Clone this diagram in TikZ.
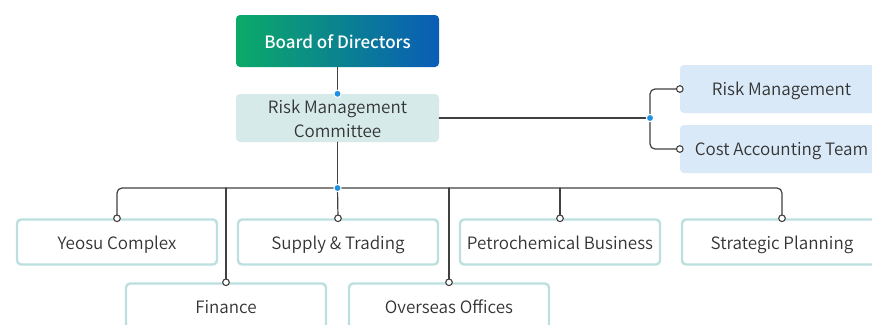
\documentclass[tikz,border=0pt]{standalone}
\usepackage{fontspec}
\setmainfont{Noto Sans CJK KR DemiLight}[BoldFont={Noto Sans CJK KR Medium}]
\usepackage{tikz}
\definecolor{linegray}{HTML}{404040}
\definecolor{txtgray}{HTML}{333333}
\definecolor{dotblue}{HTML}{1E8FE1}
\definecolor{bodgreen}{HTML}{0BAA68}
\definecolor{bodblue}{HTML}{0A5DB6}
\definecolor{cmtfill}{HTML}{D6EAEA}
\definecolor{sidefill}{HTML}{D9E9F7}
\definecolor{unitline}{HTML}{BCDFDF}
\tikzset{
  every picture/.style={line join=round, line cap=round},
  box/.style={rounded corners=4pt, minimum width=203pt, minimum height=48pt,
    inner sep=0pt, align=center, text=txtgray, font=\fontsize{17}{24}\selectfont,
    text height=13pt, text depth=0pt},
  topbox/.style={box, minimum height=52pt, left color=bodgreen, right color=bodblue,
    text=white, font=\fontsize{17}{24}\selectfont\bfseries, text height=14pt},
  cmtbox/.style={box, fill=cmtfill, text height=38pt, text depth=0pt},
  sidebox/.style={box, fill=sidefill},
  unitbox/.style={box, draw=unitline, line width=2.4pt, fill=white,
    minimum width=200pt, minimum height=45pt, text height=14pt},
  conn/.style={draw=linegray, line width=1.2pt},
  hub/.style={fill=dotblue, draw=white, line width=1pt},
  port/.style={fill=white, draw=linegray, line width=1.1pt},
}
\begin{document}
\begin{tikzpicture}[x=1pt,y=-1pt]
\useasboundingbox (0,0) rectangle (872,324);
\clip (0,0) rectangle (872,324);
% top of the chart
\node[topbox] (bod) at (337.5,41) {Board of Directors};
\node[cmtbox] (rmc) at (337.5,118) {Risk Management\\Committee};
\node[sidebox] (rm) at (781.5,89) {Risk Management};
\node[sidebox] (cat) at (781.5,149) {Cost Accounting Team};
% units
\node[unitbox] (ys) at (117,242) {Yeosu Complex};
\node[unitbox] (st) at (338,242) {Supply \& Trading};
\node[unitbox] (pc) at (560,242) {Petrochemical Business};
\node[unitbox] (sp) at (782,242) {Strategic Planning};
\node[unitbox] (fin) at (226,306) {Finance};
\node[unitbox] (ov) at (449,306) {Overseas Offices};
% hubs
\coordinate (hubTop) at (rmc.north);
\coordinate (hubSide) at (650,118);
\coordinate (hubUnits) at (337.5,188);
% connectors
\draw[conn] (bod.south) -- (hubTop);
\draw[conn] (rmc.east) -- (hubSide);
\draw[conn, rounded corners=5pt] (rm.west) -| (hubSide) |- (cat.west);
\draw[conn] (rmc.south) -- (hubUnits);
\draw[conn, rounded corners=5pt] (ys.north) |- (hubUnits) -| (sp.north);
\draw[conn] (st.north) -- (hubUnits);
\draw[conn] (pc.north) -- (pc.north |- hubUnits);
\draw[conn] (fin.north) -- (fin.north |- hubUnits);
\draw[conn] (ov.north) -- (ov.north |- hubUnits);
% dots
\foreach \h in {hubTop,hubSide,hubUnits}
  \filldraw[hub] (\h) circle[radius=3.6pt];
\foreach \p in {rm.west,cat.west,ys.north,st.north,pc.north,sp.north,fin.north,ov.north}
  \filldraw[port] (\p) circle[radius=3.3pt];
\end{tikzpicture}
\end{document}
